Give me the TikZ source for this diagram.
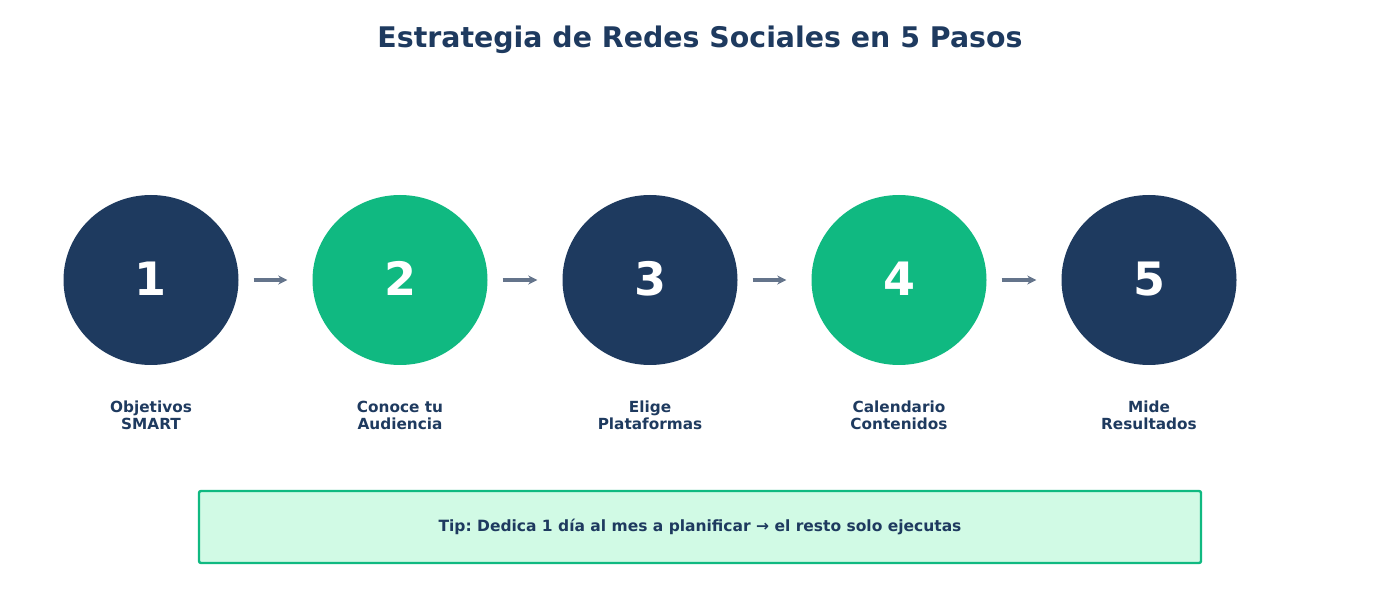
\documentclass[tikz,border=0pt]{standalone}
\usepackage{fontspec}
\setmainfont{DejaVu Sans}
\usetikzlibrary{shapes.geometric, arrows.meta, positioning}
\definecolor{navy}{HTML}{1E3A5F}
\definecolor{mint}{HTML}{10B981}
\definecolor{mintbg}{HTML}{D1FAE5}
\definecolor{slate}{HTML}{64748B}
\frenchspacing

\begin{document}
\begin{tikzpicture}[x=1pt, y=1pt,
    stepdark/.style={ellipse, minimum width=175pt, minimum height=170pt, fill=navy, text=white, font=\bfseries\fontsize{46}{46}\selectfont},
    steplight/.style={stepdark, fill=mint},
    label/.style={text=navy, font=\bfseries\fontsize{15.3}{17}\selectfont, align=center},
    flow/.style={draw=slate, line width=3.2pt, -{Stealth[length=9pt, width=9pt]}, shorten <=15pt, shorten >=25pt}
]
\useasboundingbox (0,0) rectangle (1400,600);

% Title
\node[text=navy, font=\bfseries\fontsize{28.4}{30}\selectfont] (title) at (700,560) {Estrategia de Redes Sociales en 5 Pasos};

% Steps
\node[stepdark] (s1) at (151,320) {\raisebox{3pt}{1}};
\node[steplight] (s2) at (400,320) {\raisebox{3pt}{2}};
\node[stepdark] (s3) at (650,320) {\raisebox{3pt}{3}};
\node[steplight] (s4) at (899,320) {\raisebox{3pt}{4}};
\node[stepdark] (s5) at (1149,320) {\raisebox{3pt}{5}};

% Arrows
\path[flow] (s1) -- (s2);
\path[flow] (s2) -- (s3);
\path[flow] (s3) -- (s4);
\path[flow] (s4) -- (s5);

% Labels
\node[label] (l1) at (151,185) {Objetivos\\SMART};
\node[label] (l2) at (400,185) {Conoce tu\\Audiencia};
\node[label] (l3) at (650,185) {Elige\\Plataformas};
\node[label] (l4) at (899,185) {Calendario\\Contenidos};
\node[label] (l5) at (1149,185) {Mide\\Resultados};

% Tip
\node[draw=mint, fill=mintbg, line width=2.4pt, rounded corners=2pt, minimum width=1002pt, minimum height=72pt, text=navy, font=\bfseries\fontsize{15.5}{17}\selectfont] (tip) at (700,73) {Tip: Dedica 1 día al mes a planificar → el resto solo ejecutas};
\end{tikzpicture}
\end{document}
